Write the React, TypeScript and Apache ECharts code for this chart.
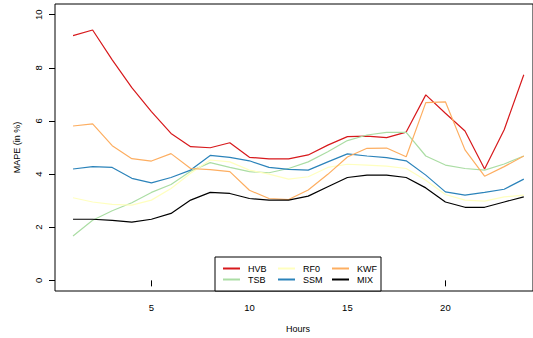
import React, { useEffect, useRef } from "react";
import * as echarts from "echarts";

const hours = [1,2,3,4,5,6,7,8,9,10,11,12,13,14,15,16,17,18,19,20,21,22,23,24];
const HVB = [9.21,9.42,8.30,7.25,6.35,5.53,5.03,4.99,5.18,4.63,4.57,4.57,4.72,5.09,5.41,5.43,5.37,5.58,6.98,6.29,5.62,4.19,5.67,7.74];
const TSB = [1.67,2.26,2.62,2.92,3.31,3.61,4.11,4.43,4.25,4.09,4.05,4.21,4.46,4.84,5.26,5.47,5.57,5.57,4.68,4.34,4.21,4.15,4.38,4.68];
const RF0 = [3.11,2.95,2.86,2.83,3.02,3.46,4.03,4.53,4.46,4.15,4.00,3.81,3.90,4.25,4.37,4.34,4.30,4.21,3.77,3.23,3.02,2.98,3.14,3.21];
const SSM = [4.19,4.28,4.25,3.84,3.67,3.87,4.15,4.70,4.63,4.50,4.25,4.18,4.15,4.46,4.76,4.68,4.62,4.50,3.96,3.33,3.21,3.31,3.43,3.81];
const KWF = [5.81,5.89,5.07,4.58,4.49,4.77,4.21,4.17,4.09,3.39,3.08,3.04,3.40,3.99,4.64,4.97,4.98,4.65,6.69,6.72,4.91,3.92,4.28,4.68];
const MIX = [2.30,2.30,2.26,2.19,2.30,2.52,3.02,3.31,3.27,3.08,3.02,3.02,3.17,3.52,3.87,3.96,3.96,3.87,3.48,2.95,2.75,2.75,2.95,3.14];

const seriesNames = ["HVB", "TSB", "RF0", "SSM", "KWF", "MIX"];
const seriesValues = [HVB, TSB, RF0, SSM, KWF, MIX];
const seriesColors = ["#d7191c", "#abdda4", "#ffffbf", "#2b83ba", "#fdae61", "#000000"];
const xTicks = [5, 10, 15, 20];
const yTicks = [0, 2, 4, 6, 8, 10];

const FONT = "Liberation Sans, Arial, sans-serif";

export default function App() {
  const ref = useRef<HTMLDivElement>(null);
  useEffect(() => {
    if (!ref.current) return;
    const chart = echarts.init(ref.current, null, { renderer: "svg" });
    const legendCol = (data: string[], left: number) => ({
      show: true,
      orient: "vertical",
      left,
      top: 263,
      padding: 0,
      itemGap: 0,
      itemWidth: 17,
      itemHeight: 2,
      icon: "rect",
      data,
      textStyle: { fontFamily: FONT, fontSize: 9, color: "#000", lineHeight: 11, padding: [0, 0, 0, 3] },
    });
    chart.setOption({
      animation: false,
      backgroundColor: "#fff",
      grid: {
        left: 55,
        top: 4,
        right: 0,
        bottom: 47,
        show: true,
        borderColor: "#000",
        borderWidth: 1,
        backgroundColor: "transparent",
      },
      xAxis: {
        type: "value",
        min: 0.08,
        max: 24.47,
        name: "Hours",
        nameLocation: "middle",
        nameGap: 33,
        nameTextStyle: { fontFamily: FONT, fontSize: 9, color: "#000", padding: [0, 0, 0, 8] },
        axisLine: { show: false },
        splitLine: { show: false },
        axisTick: { show: true, length: 6, customValues: xTicks, lineStyle: { color: "#000" } },
        axisLabel: { customValues: xTicks, margin: 11, fontFamily: FONT, fontSize: 9.5, color: "#000" },
      },
      yAxis: {
        type: "value",
        min: -0.4,
        max: 10.4,
        name: "MAPE (in %)",
        nameLocation: "middle",
        nameGap: 34,
        nameRotate: 90,
        nameTextStyle: { fontFamily: FONT, fontSize: 9, color: "#000" },
        axisLine: { show: false },
        splitLine: { show: false },
        axisTick: { show: true, length: 6, customValues: yTicks, lineStyle: { color: "#000" } },
        axisLabel: { customValues: yTicks, rotate: 90, margin: 12, fontFamily: FONT, fontSize: 9.5, color: "#000" },
      },
      legend: [
        legendCol(["HVB", "TSB"], 223),
        legendCol(["RF0", "SSM"], 278),
        legendCol(["KWF", "MIX"], 332),
      ],
      graphic: [
        {
          type: "rect",
          z: 3,
          shape: { x: 215, y: 257, width: 166, height: 34 },
          style: { fill: "#fff", stroke: "#000", lineWidth: 1 },
        },
      ],
      series: seriesNames.map((name, i) => ({
        name,
        type: "line",
        symbol: "none",
        color: seriesColors[i],
        lineStyle: { width: 1.2, color: seriesColors[i] },
        data: hours.map((h, j) => [h, seriesValues[i][j]]),
      })),
    });
    return () => chart.dispose();
  }, []);
  return <div ref={ref} style={{ width: 533, height: 338, position: "absolute", left: 0, top: 0 }} />;
}
